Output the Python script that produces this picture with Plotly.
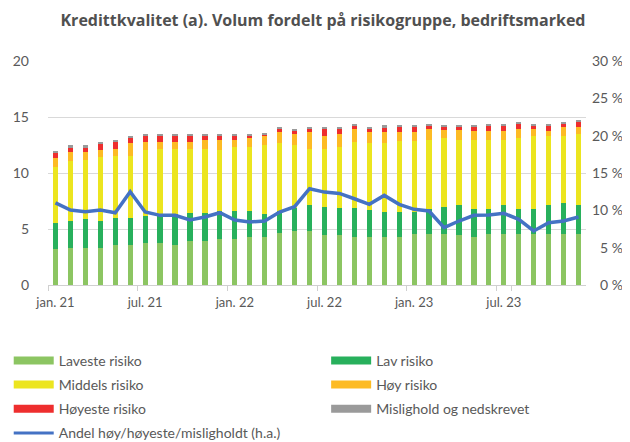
import plotly.graph_objects as go

months = []
for yr in ["21", "22", "23"]:
    for m in ["jan.", "feb.", "mar.", "apr.", "mai", "jun.", "jul.", "aug.", "sep.", "okt.", "nov.", "des."]:
        months.append(f"{m} {yr}")

laveste = [3.19, 3.31, 3.31, 3.31, 3.60, 3.60, 3.78, 3.78, 3.60, 3.96, 3.96, 4.14,
           4.14, 4.26, 4.26, 4.61, 4.79, 4.79, 4.44, 4.44, 4.26, 4.26, 4.26, 4.26,
           4.59, 4.59, 4.59, 4.44, 4.26, 4.59, 4.59, 4.59, 4.59, 4.59, 4.59, 4.59]
lav = [2.31, 2.37, 2.55, 2.37, 2.40, 2.40, 2.41, 2.52, 2.70, 2.49, 2.49, 2.43,
       2.49, 2.37, 2.10, 1.99, 2.05, 2.35, 2.55, 2.40, 2.58, 2.40, 2.25, 2.25,
       1.92, 2.22, 2.40, 2.70, 2.55, 2.22, 2.55, 2.22, 2.22, 2.55, 2.72, 2.55]
middels = [5.05, 5.37, 5.34, 5.72, 5.55, 5.55, 5.84, 5.88, 5.88, 5.73, 5.73, 5.46,
           5.70, 5.70, 6.14, 6.08, 5.66, 5.04, 5.19, 5.51, 5.96, 6.02, 6.17, 6.32,
           6.32, 6.17, 6.14, 5.84, 6.17, 6.17, 5.84, 6.32, 6.46, 6.13, 5.96, 6.37]
hoy = [0.80, 0.80, 0.65, 0.63, 0.63, 1.13, 0.77, 0.62, 0.62, 0.62, 0.80, 0.95,
       0.65, 0.80, 0.83, 0.95, 0.98, 1.45, 1.15, 1.13, 1.16, 0.95, 0.95, 0.80,
       0.80, 0.98, 0.68, 0.83, 0.80, 0.80, 0.80, 0.83, 0.69, 0.51, 0.83, 0.59]
hoyeste = [0.44, 0.45, 0.45, 0.59, 0.59, 0.45, 0.47, 0.47, 0.47, 0.47, 0.29, 0.29,
           0.29, 0.14, 0.15, 0.33, 0.33, 0.33, 0.60, 0.45, 0.26, 0.33, 0.47, 0.44,
           0.44, 0.26, 0.26, 0.26, 0.29, 0.47, 0.47, 0.44, 0.26, 0.44, 0.30, 0.45]
mislighold = [0.21, 0.17, 0.17, 0.18, 0.21, 0.20, 0.21, 0.21, 0.21, 0.21, 0.21, 0.21,
              0.21, 0.21, 0.09, 0.11, 0.12, 0.11, 0.14, 0.14, 0.18, 0.14, 0.15, 0.18,
              0.18, 0.18, 0.18, 0.18, 0.18, 0.15, 0.15, 0.18, 0.18, 0.18, 0.18, 0.21]
andel = [11.0, 10.04, 9.82, 10.04, 9.68, 12.49, 9.77, 9.33, 9.33, 8.71, 9.11, 9.68,
         8.71, 8.44, 8.57, 9.77, 10.49, 12.89, 12.44, 12.26, 11.55, 10.8, 12.0, 10.8,
         10.13, 9.91, 7.68, 8.57, 9.33, 9.37, 9.6, 8.8, 7.24, 8.35, 8.57, 9.11]

x_tick_labels = ["jan. 21", "jul. 21", "jan. 22", "jul. 22", "jan. 23", "jul. 23"]
left_ticks = [0, 5, 10, 15, 20]
right_ticks = [0, 5, 10, 15, 20, 25, 30]

series = [
    ("Laveste risiko", laveste, "#8CC562"),
    ("Lav risiko", lav, "#28B05C"),
    ("Middels risiko", middels, "#ECE51F"),
    ("Høy risiko", hoy, "#FDBB24"),
    ("Høyeste risiko", hoyeste, "#EE2E2E"),
    ("Mislighold og nedskrevet", mislighold, "#9A9A9A"),
]
line_name = "Andel høy/høyeste/misligholdt (h.a.)"

FONT = "Lato, 'Open Sans', sans-serif"
TXT = "#595959"

fig = go.Figure()
for name, vals, col in series:
    fig.add_trace(go.Bar(x=months, y=vals, name=name, marker_color=col,
                         marker_line_width=0, showlegend=False, hoverinfo="skip"))
line_col = "#4472C4"
fig.add_trace(go.Scatter(x=months, y=andel, yaxis="y2", mode="lines",
                         line=dict(color=line_col, width=3.5), showlegend=False,
                         name=line_name))

# legend entries (wide swatches), two columns
for k, (name, vals, col) in enumerate([series[0], series[2], series[4]]):
    fig.add_trace(go.Scatter(x=[None], y=[None], mode="lines", name=name,
                             line=dict(color=col, width=8), legend="legend",
                             legendgroup=f"a{k}"))
fig.add_trace(go.Scatter(x=[None], y=[None], mode="lines", name=line_name,
                         line=dict(color=line_col, width=3), legend="legend",
                         legendgroup="a3"))
for k, (name, vals, col) in enumerate([series[1], series[3], series[5]]):
    fig.add_trace(go.Scatter(x=[None], y=[None], mode="lines", name=name,
                             line=dict(color=col, width=8), legend="legend2",
                             legendgroup=f"b{k}"))

leg_common = dict(orientation="v", font=dict(family=FONT, size=14, color=TXT),
                  itemwidth=40, tracegroupgap=3, bgcolor="rgba(0,0,0,0)",
                  xanchor="left", yanchor="top", itemclick=False)

fig.update_layout(
    width=630, height=442,
    margin=dict(l=39.5, r=51.5, t=52.5, b=165, autoexpand=False),
    barmode="stack", bargap=0.65,
    plot_bgcolor="white", paper_bgcolor="white",
    font=dict(family=FONT, size=13, color=TXT),
    title=dict(text="<b>Kredittkvalitet (a). Volum fordelt på risikogruppe, bedriftsmarked</b>",
               x=0.5, xanchor="center", y=0.972, yanchor="middle",
               font=dict(family="'Open Sans', sans-serif", size=16, color="#505050")),
    xaxis=dict(type="category", categoryorder="array", categoryarray=months,
               tickmode="array", tickvals=x_tick_labels, ticktext=x_tick_labels,
               tickson="boundaries", ticks="outside", ticklen=5, tickcolor="#D0D0D0",
               tickangle=0, showline=True, linecolor="#D0D0D0", linewidth=1,
               showgrid=False, tickfont=dict(family=FONT, size=13, color=TXT),
               ticklabelstandoff=5, range=[-0.5, 35.5]),
    yaxis=dict(range=[0, 20], tickvals=left_ticks, showgrid=True, gridcolor="#D9D9D9",
               gridwidth=1, zeroline=False, ticks="", ticklabelstandoff=18,
               tickfont=dict(family=FONT, size=14, color=TXT)),
    yaxis2=dict(range=[0, 30], tickvals=right_ticks,
                ticktext=[f"{v} %" if v >= 10 else f"\u2007{v} %" for v in right_ticks],
                overlaying="y", side="right", showgrid=False, zeroline=False,
                ticks="", ticklabelstandoff=5,
                tickfont=dict(family=FONT, size=14, color=TXT)),
    legend=dict(x=-0.073, y=-0.267, **leg_common),
    legend2=dict(x=0.517, y=-0.267, **leg_common),
    hovermode=False,
)

fig.write_html("out.html")
